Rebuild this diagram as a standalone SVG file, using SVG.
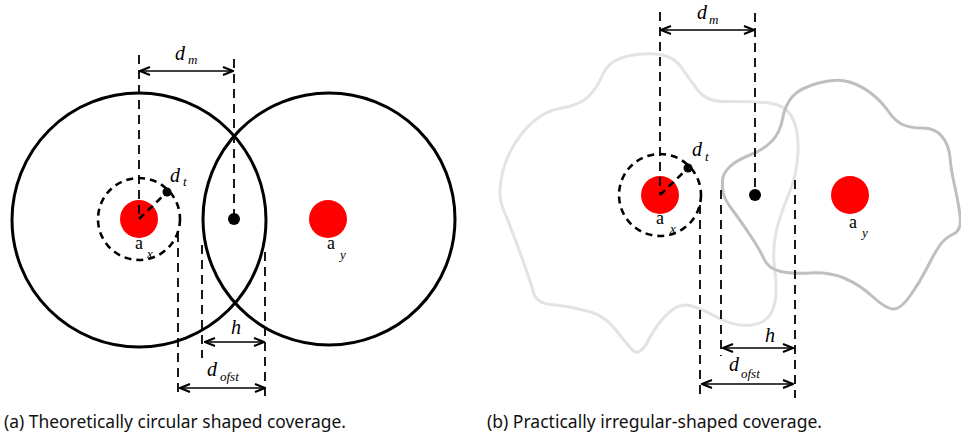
<svg xmlns="http://www.w3.org/2000/svg" width="961" height="438" viewBox="0 0 961 438">
<style>
.cov{fill:none;stroke:#000;stroke-width:3}
.red{fill:#ff0000}
.dot{fill:#000}
.vd{fill:none;stroke:#000;stroke-width:1.8;stroke-dasharray:9 6}
.dc{fill:none;stroke:#000;stroke-width:2.6;stroke-dasharray:7 5}
.ar{fill:none;stroke:#000;stroke-width:1.6;marker-start:url(#ah);marker-end:url(#ah)}
.lbl{font-family:"Liberation Serif","Times New Roman",serif;font-size:20px;font-style:italic;fill:#000}
.sub{font-family:"Liberation Serif","Times New Roman",serif;font-size:13px;font-style:italic;fill:#000}
.an{font-family:"Liberation Serif","Times New Roman",serif;font-size:18px;fill:#000}
.cap{font-family:"Noto Sans","Open Sans",sans-serif;font-size:18px;fill:#111}
.blobL{fill:none;stroke:#e3e3e3;stroke-width:3}
.blobD{fill:none;stroke:#bfbfbf;stroke-width:3}
</style>
<defs>
<marker id="ah" viewBox="0 0 12 10" refX="11" refY="5" markerWidth="12" markerHeight="10" markerUnits="userSpaceOnUse" orient="auto-start-reverse">
<path d="M1,1 L11,5 L1,9" fill="none" stroke="#000" stroke-width="2"/>
</marker>
</defs>

<!-- Panel (a) -->
<g id="a-coverage-x"><circle class="cov" cx="139" cy="220" r="127"/></g>
<g id="a-coverage-y"><circle class="cov" cx="329" cy="219" r="126"/></g>
<g id="a-node-x">
<circle class="red" cx="139" cy="219" r="19"/>
<circle class="dc" cx="139" cy="219" r="41"/>
<text class="an" x="135" y="249">a</text><text class="sub" x="147" y="258">x</text>
</g>
<g id="a-node-y">
<circle class="red" cx="328" cy="219" r="19"/>
<text class="an" x="327" y="249">a</text><text class="sub" x="340" y="259">y</text>
</g>
<g id="a-mid"><circle class="dot" cx="234" cy="219" r="6"/></g>
<g id="a-dt"><circle class="dot" cx="167" cy="192" r="4.5"/>
<text class="lbl" x="170" y="182">d</text><text class="sub" x="183" y="186">t</text></g>
<g id="a-connectors">
<line class="dc" x1="139" y1="219" x2="165" y2="194"/>
<line class="vd" x1="139" y1="55" x2="139" y2="219"/>
<line class="vd" x1="234" y1="59" x2="234" y2="219"/>
<line class="vd" x1="178" y1="233" x2="178" y2="398"/>
<line class="vd" x1="202" y1="245" x2="202" y2="358"/>
<line class="vd" x1="265" y1="252" x2="265" y2="398"/>
<line class="ar" x1="140" y1="71" x2="233" y2="71"/>
<line class="ar" x1="205" y1="342" x2="264" y2="342"/>
<line class="ar" x1="180" y1="388" x2="265" y2="388"/>
</g>
<g id="a-labels">
<text class="lbl" x="175" y="60">d</text><text class="sub" x="188" y="64">m</text>
<text class="lbl" x="231" y="334">h</text>
<text class="lbl" x="207" y="376">d</text><text class="sub" x="220" y="381">ofst</text>
</g>
<text class="cap" x="4" y="428" textLength="342" lengthAdjust="spacingAndGlyphs">(a) Theoretically circular shaped coverage.</text>

<!-- Panel (b) -->
<g id="b-coverage-x"><path class="blobL" d="M 655,54 Q 673,55 681.5,67.5 Q 690,80 698.5,91 Q 707,102 726,101.5 Q 745,101 765,102.5 Q 785,104 792,117 Q 799,130 798,152.5 Q 797,175 788.5,195 Q 780,215 776,232.5 Q 772,250 775,272.5 Q 778,295 773,309 Q 768,323 751.5,325 Q 735,327 717.5,317.5 Q 700,308 690,305.5 Q 680,303 670,311.5 Q 660,320 650,337 Q 640,358 632.5,350 Q 625,342 615,329 Q 605,316 589,311.5 Q 573,307 556.5,305 Q 536,305 533,291 Q 530,280 520,252.5 Q 510,225 503.5,210 Q 497,195 502.5,172.5 Q 508,150 524,131 Q 540,112 560,108.5 Q 580,105 588.5,96.5 Q 597,88 602.5,75 Q 608,62 622.5,57.5 Q 637,53 655,54 Z"/></g>
<g id="b-coverage-y"><path class="blobD" d="M 722.5,180.5 Q 723,173 730,166.5 Q 737,160 750,155 Q 763,150 771.5,141.5 Q 780,133 782.5,119 Q 785,105 792.5,96.5 Q 800,88 818.5,83 Q 837,78 849.5,82 Q 862,86 872,94 Q 882,102 888.5,111.5 Q 895,121 902.5,124.5 Q 910,128 922.5,128 Q 935,128 942,136.5 Q 949,145 950,157.5 Q 951,170 954.5,185 Q 958,200 960,215 Q 962,230 953.5,234 Q 945,238 940,245 Q 935,252 927.5,267 Q 920,282 910,296 Q 900,310 892.5,309 Q 885,308 872.5,296.5 Q 860,285 845,278.5 Q 830,272 810,273 Q 790,274 779,271 Q 768,268 764,259 Q 760,250 750,235 Q 740,220 732.5,210 Q 725,200 723.5,194 Q 722,188 722.5,180.5 Z"/></g>
<g id="b-node-x">
<circle class="red" cx="660" cy="195" r="19"/>
<circle class="dc" cx="660" cy="195" r="41"/>
<text class="an" x="656" y="224">a</text><text class="sub" x="670" y="233">x</text>
</g>
<g id="b-node-y">
<circle class="red" cx="850" cy="195" r="19"/>
<text class="an" x="849" y="228">a</text><text class="sub" x="862" y="237">y</text>
</g>
<g id="b-mid"><circle class="dot" cx="755" cy="195" r="6"/></g>
<g id="b-dt"><circle class="dot" cx="688" cy="168" r="4.5"/>
<text class="lbl" x="692" y="156">d</text><text class="sub" x="705" y="161">t</text></g>
<g id="b-connectors">
<line class="dc" x1="660" y1="195" x2="686" y2="170"/>
<line class="vd" x1="660" y1="12" x2="660" y2="195"/>
<line class="vd" x1="755" y1="13" x2="755" y2="195"/>
<line class="vd" x1="700" y1="205" x2="700" y2="400"/>
<line class="vd" x1="721" y1="190" x2="721" y2="356"/>
<line class="vd" x1="795" y1="180" x2="795" y2="398"/>
<line class="ar" x1="661" y1="30" x2="754" y2="30"/>
<line class="ar" x1="723" y1="348" x2="793" y2="348"/>
<line class="ar" x1="702" y1="384" x2="793" y2="384"/>
</g>
<g id="b-labels">
<text class="lbl" x="697" y="19">d</text><text class="sub" x="709" y="24">m</text>
<text class="lbl" x="765" y="342">h</text>
<text class="lbl" x="729" y="371">d</text><text class="sub" x="741" y="378">ofst</text>
</g>
<text class="cap" x="487" y="428" textLength="335" lengthAdjust="spacingAndGlyphs">(b) Practically irregular-shaped coverage.</text>
</svg>
